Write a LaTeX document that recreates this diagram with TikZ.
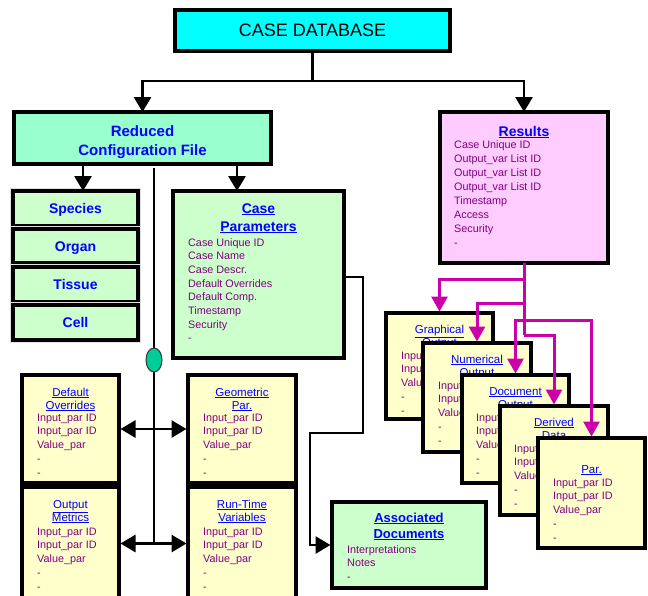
\documentclass[tikz,border=0pt]{standalone}
\usepackage{fontspec}
\setmainfont{Liberation Sans}
\usetikzlibrary{arrows.meta,shapes.geometric}

\definecolor{cyanbox}{RGB}{0,255,255}
\definecolor{mint}{RGB}{153,255,204}
\definecolor{palegreen}{RGB}{204,255,204}
\definecolor{palepink}{RGB}{255,204,255}
\definecolor{paleyellow}{RGB}{255,255,204}
\definecolor{titleblue}{RGB}{0,0,255}
\definecolor{itempurple}{RGB}{128,0,128}
\definecolor{linkmagenta}{RGB}{204,0,170}
\definecolor{knobgreen}{RGB}{0,204,153}

\begin{document}
\begin{tikzpicture}[x=1pt,y=-1pt,
  box/.style={draw=black,line width=3.2pt,inner sep=0pt,outer sep=0pt,anchor=north west},
  halo/.style={preaction={draw=black!12,line width=6pt}},
  tab/.style={box,halo,fill=palegreen,minimum width=125pt,text=titleblue,
    font=\bfseries\fontsize{14}{16}\selectfont,text height=10pt,text depth=0pt},
  % multi-line text nodes are placed by the baseline of their last line
  heading/.style={text=titleblue,font=\bfseries\fontsize{14}{18}\selectfont,align=center,inner sep=0pt,anchor=base},
  caption/.style={text=titleblue,font=\fontsize{11.5}{13}\selectfont,align=center,inner sep=0pt,anchor=base},
  entries/.style={text=itempurple,font=\fontsize{10.8}{13.8}\selectfont,align=left,inner sep=0pt,anchor=base west},
  link/.style={line width=2.8pt,draw=black},
  arrowed/.style={-{Triangle[length=15pt,width=17pt]}},
  twoway/.style={{Triangle[length=15pt,width=17pt]}-{Triangle[length=15pt,width=17pt]}},
  feed/.style={line width=3pt,draw=linkmagenta,-{Triangle[length=15pt,width=16pt]},shorten >=1.5pt},
]
\fill[white] (0,0) rectangle (648,595);
\useasboundingbox (0,0) rectangle (648,595);

% ---- top level ----
\node[box,fill=cyanbox,minimum width=275pt,minimum height=41pt,
  font=\fontsize{18}{20}\selectfont,text height=12.9pt,text depth=0pt] (cdb) at (175,10) {CASE DATABASE};

\node[box,fill=mint,minimum width=257pt,minimum height=52pt] (rcf) at (14,112) {};
\node[heading,font=\bfseries\fontsize{15}{19}\selectfont] (rcfT) at (142.5,155.5) {Reduced\\Configuration File};

\node[box,fill=palepink,minimum width=168pt,minimum height=151pt] (res) at (440,112) {};
\node[heading] (resT) at (524,136) {\underline{Results}};
\node[entries,font=\fontsize{10.8}{14}\selectfont] (resI) at (454,246)
  {Case Unique ID\\Output\_var List ID\\Output\_var List ID\\Output\_var List ID\\Timestamp\\Access\\Security\\-};

% ---- hierarchy tabs ----
\node[tab,minimum height=35pt] (species) at (13,191) {Species};
\node[tab,minimum height=34pt] (organ) at (13,229) {Organ};
\node[tab,minimum height=35pt] (tissue) at (13,267) {Tissue};
\node[tab,minimum height=35pt] (cell) at (13,305) {Cell};

% ---- case parameters ----
\node[box,fill=palegreen,minimum width=171pt,minimum height=167pt] (cpar) at (173,191) {};
\node[heading] (cparT) at (258.5,231) {\underline{Case}\\\underline{Parameters}};
\node[entries,font=\fontsize{10.8}{13.7}\selectfont] (cparI) at (188,341.9)
  {Case Unique ID\\Case Name\\Case Descr.\\Default Overrides\\Default Comp.\\Timestamp\\Security\\-};

% ---- parameter groups ----
\node[box,fill=paleyellow,minimum width=97pt,minimum height=108pt] (dov) at (22,375) {};
\node[caption] (dovT) at (70.5,409) {\underline{Default}\\\underline{Overrides}};
\node[entries] (dovI) at (37,476.2) {Input\_par ID\\Input\_par ID\\Value\_par\\-\\-};

\node[box,fill=paleyellow,minimum width=108pt,minimum height=108pt] (geo) at (188,375) {};
\node[caption] (geoT) at (242,409) {\underline{Geometric}\\\underline{Par.}};
\node[entries] (geoI) at (203,476.2) {Input\_par ID\\Input\_par ID\\Value\_par\\-\\-};

\node[box,fill=paleyellow,minimum width=97pt,minimum height=113pt] (om) at (22,487) {};
\node[caption] (omT) at (70.5,521) {\underline{Output}\\\underline{Metrics}};
\node[entries] (omI) at (37,590.2) {Input\_par ID\\Input\_par ID\\Value\_par\\-\\-};

\node[box,fill=paleyellow,minimum width=108pt,minimum height=113pt] (rtv) at (188,487) {};
\node[caption] (rtvT) at (242,521) {\underline{Run-Time}\\\underline{Variables}};
\node[entries] (rtvI) at (203,590.2) {Input\_par ID\\Input\_par ID\\Value\_par\\-\\-};

% ---- associated documents ----
\node[box,fill=palegreen,minimum width=154pt,minimum height=86pt] (adoc) at (332,502) {};
\node[heading,font=\bfseries\fontsize{13}{16}\selectfont] (adocT) at (409,538) {\underline{Associated}\\\underline{Documents}};
\node[entries] (adocI) at (347,580.6) {Interpretations\\Notes\\-};

% ---- stacked result sheets ----
\node[box,fill=paleyellow,minimum width=107pt,minimum height=106pt] (g1) at (386,313) {};
\node[caption] (g1T) at (439.5,346) {\underline{Graphical}\\\underline{Output}};
\node[entries] (g1I) at (401,414.2) {Input\_par ID\\Input\_par ID\\Value\_par\\-\\-};

\node[box,fill=paleyellow,minimum width=108pt,minimum height=109pt] (g2) at (423,343) {};
\node[caption] (g2T) at (477,376) {\underline{Numerical}\\\underline{Output}};
\node[entries] (g2I) at (438,444.2) {Input\_par ID\\Input\_par ID\\Value\_par\\-\\-};

\node[box,fill=paleyellow,minimum width=107pt,minimum height=108pt] (g3) at (462,375) {};
\node[caption] (g3T) at (515.5,408) {\underline{Document}\\\underline{Output}};
\node[entries] (g3I) at (476,476.2) {Input\_par ID\\Input\_par ID\\Value\_par\\-\\-};

\node[box,fill=paleyellow,minimum width=108pt,minimum height=109pt] (g4) at (500,406) {};
\node[caption] (g4T) at (554,439) {\underline{Derived}\\\underline{Data}};
\node[entries] (g4I) at (514,507.2) {Input\_par ID\\Input\_par ID\\Value\_par\\-\\-};

\node[box,fill=paleyellow,minimum width=107pt,minimum height=110pt] (g5) at (538,438) {};
\node[caption] (g5T) at (591.5,473) {\underline{Par.}};
\node[entries] (g5I) at (553,541.2) {Input\_par ID\\Input\_par ID\\Value\_par\\-\\-};

% ---- black connectors ----
\coordinate (hub) at (0,81);
\coordinate (spx) at (83,0);
\coordinate (cpx) at (237,0);
\coordinate (spineTop) at (154,168);
\coordinate (bendA) at (363,277);
\coordinate (bendB) at (310,433);

\draw[link] (cdb.south) -- (cdb.south |- hub);
\draw[link,arrowed] (cdb.south |- hub) -| (rcf.north);
\draw[link,arrowed] (cdb.south |- hub) -| (res.north);
\draw[link,arrowed] (rcf.south -| spx) -- (species.north -| spx);
\draw[link,arrowed] (rcf.south -| cpx) -- (cpar.north -| cpx);

\draw[link] (spineTop) -- (spineTop |- om.east);
\draw[link,twoway,shorten <=1.5pt,shorten >=1.5pt] (dov.east) -- (geo.west);
\draw[link,twoway,shorten <=1.5pt,shorten >=1.5pt] (om.east) -- (rtv.west);
\node[ellipse,draw=black!80,fill=knobgreen,line width=1pt,minimum width=16pt,minimum height=24pt,inner sep=0pt] (knob) at (154,360) {};

\draw[link,arrowed,shorten >=1.5pt] (cpar.east |- bendA) -- (bendA) |- (bendB) |- (adoc.west);

% ---- magenta distribution to result sheets ----
\coordinate (lvA) at (0,279);
\coordinate (lvB) at (0,303);
\coordinate (lvC) at (0,320);
\coordinate (lvD) at (0,335);
\draw[line width=3pt,draw=linkmagenta] (res.south) -- (res.south |- lvD);
\draw[feed] (res.south |- lvA) -| (g1.north);
\draw[feed] (res.south |- lvB) -| (g2.north);
\draw[feed] (res.south |- lvC) -| (g3.north);
\draw[feed] (res.south |- lvD) -| (g4.north);
\draw[feed] (res.south |- lvC) -| (g5.north);
\end{tikzpicture}
\end{document}
